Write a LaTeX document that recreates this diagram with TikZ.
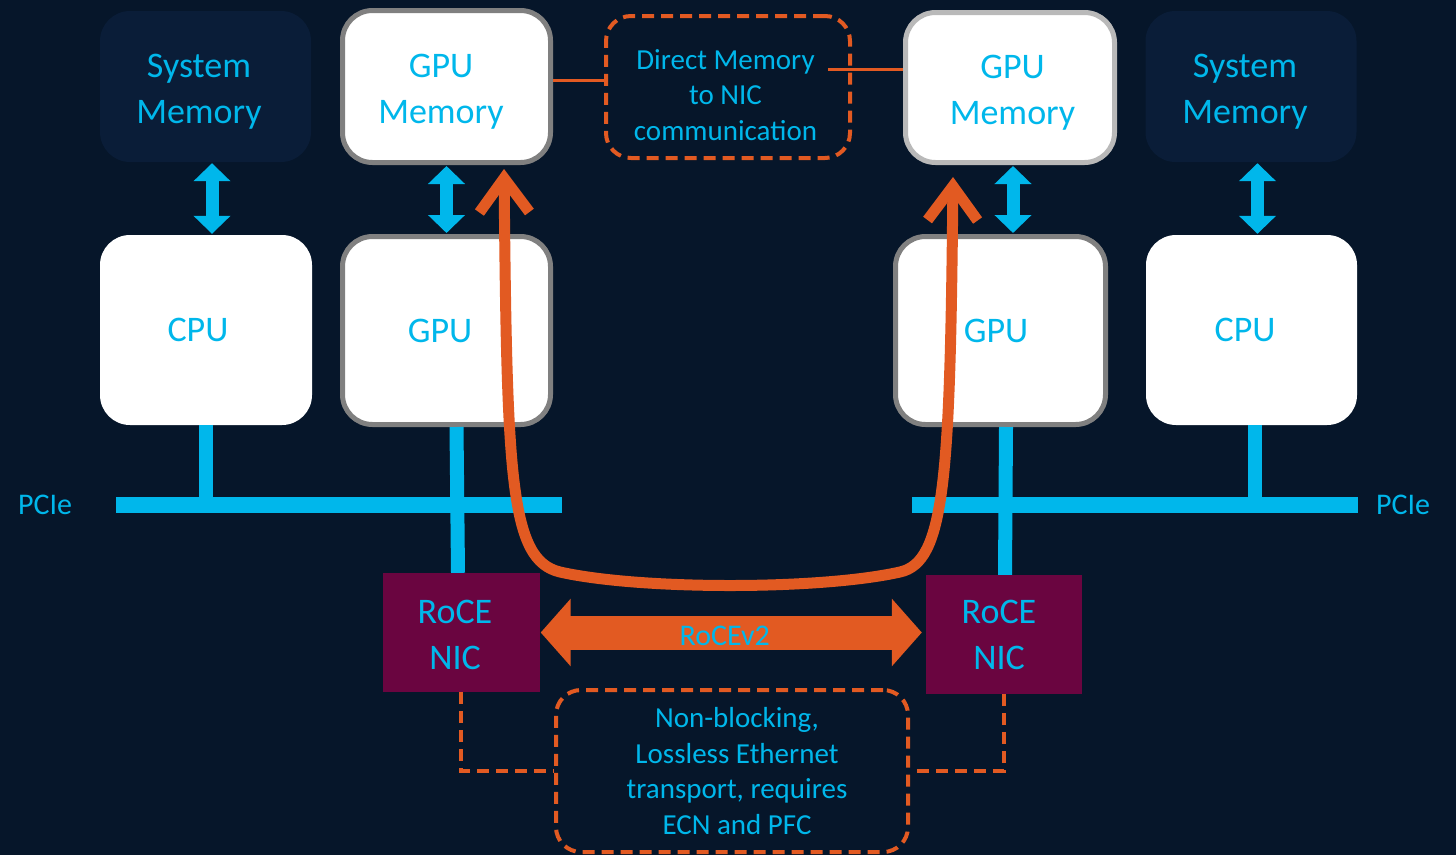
\documentclass[tikz,border=0pt]{standalone}
\usepackage{fontspec}
\setmainfont{Carlito}
\usetikzlibrary{arrows.meta}
\definecolor{bgc}{RGB}{6,22,42}
\definecolor{smc}{RGB}{10,29,56}
\definecolor{cy}{RGB}{0,183,235}
\definecolor{orc}{RGB}{226,90,34}
\definecolor{nicc}{RGB}{106,5,64}
\definecolor{gra}{RGB}{128,128,128}
\definecolor{grb}{RGB}{185,185,185}
\newcommand\fbig{\fontsize{36}{46}\selectfont}
\newcommand\fmid{\fontsize{29}{35.5}\selectfont}
\begin{document}
\begin{tikzpicture}[x=1pt,y=-1pt,
  smem/.style={fill=smc, rounded corners=30pt, minimum width=211pt, minimum height=151pt, inner sep=0pt},
  wbox/.style={fill=white, rounded corners=30pt, inner sep=0pt},
  gbox/.style={wbox, draw=gra, line width=5pt},
  nicbox/.style={fill=nicc, inner sep=0pt, minimum width=157pt, minimum height=119pt},
  dbox/.style={draw=orc, line width=4pt, dash pattern=on 12pt off 7pt, rounded corners=25pt, inner sep=0pt},
  btxt/.style={text=cy, font=\fbig, align=center, inner sep=0pt},
  mtxt/.style={text=cy, font=\fmid, align=center, inner sep=0pt},
  dlink/.style={draw=orc, line width=3.5pt, dash pattern=on 12pt off 7pt},
  slink/.style={draw=orc, line width=3pt},
  bar/.style={fill=cy, inner sep=0pt, minimum height=16pt},
  blink/.style={draw=cy, line width=14pt},
  barrow/.style={draw=cy, line width=13pt, {Triangle[width=36pt,length=18pt]}-{Triangle[width=36pt,length=18pt]}, shorten <=1pt, shorten >=1pt},
  lbl/.style={text=cy, font=\fontsize{30}{36}\selectfont, inner sep=0pt}
]
\useasboundingbox (0,0) rectangle (1456,855);
\fill[bgc] (0,0) rectangle (1456,855);

% top row
\node[smem] (smL) at (205.5,86.5) {};
\node[gbox, minimum width=208pt, minimum height=152pt] (gmL) at (446.5,86.5) {};
\node[gbox, draw=grb, minimum width=209pt, minimum height=150pt] (gmR) at (1010,87.5) {};
\node[smem] (smR) at (1251,86.5) {};
\node[dbox, minimum width=244pt, minimum height=142pt] (dm) at (728,87) {};
\node[btxt] (smLt) at ([xshift=-6.5pt,yshift=-5pt]smL.center) {System\\Memory};
\node[btxt] (gmLt) at ([xshift=-5.5pt,yshift=-5pt]gmL.center) {GPU\\Memory};
\node[btxt] (gmRt) at ([xshift=2.5pt,yshift=-5pt]gmR.center) {GPU\\Memory};
\node[btxt] (smRt) at ([xshift=-6pt,yshift=-5pt]smR.center) {System\\Memory};
\node[mtxt] (dmt) at ([xshift=-2.5pt,yshift=-8pt]dm.center) {Direct Memory\\to NIC\\communication};

% middle row
\node[wbox, minimum width=212pt, minimum height=190pt] (cpuL) at (206,330) {};
\node[gbox, minimum width=208pt, minimum height=188pt] (gpuL) at (446.5,330.5) {};
\node[gbox, minimum width=210pt, minimum height=188pt] (gpuR) at (1000.5,330.5) {};
\node[wbox, minimum width=211pt, minimum height=190pt] (cpuR) at (1251.5,330) {};
\node[btxt] (cpuLt) at ([xshift=-8pt]cpuL.center) {CPU};
\node[btxt] (gpuLt) at ([xshift=-6.5pt]gpuL.center) {GPU};
\node[btxt] (gpuRt) at ([xshift=-4.5pt]gpuR.center) {GPU};
\node[btxt] (cpuRt) at ([xshift=-6.5pt]cpuR.center) {CPU};

% PCIe bars
\node[bar, minimum width=446pt] (pcieL) at (339,505) {};
\node[bar, minimum width=446pt] (pcieR) at (1135,505) {};
\node[lbl] (pcieLt) at (45,505) {PCIe};
\node[lbl] (pcieRt) at (1403,505) {PCIe};

% NICs
\node[nicbox] (nicL) at (461,632.5) {};
\node[nicbox, minimum width=156pt] (nicR) at (1004,634.5) {};
\node[btxt] (nicLt) at ([xshift=-6pt,yshift=-2pt]nicL.center) {RoCE\\NIC};
\node[btxt] (nicRt) at ([xshift=-5pt]nicR.center) {RoCE\\NIC};

% bottom dashed box
\node[dbox, minimum width=352pt, minimum height=162pt] (eth) at (732,771) {};
\node[mtxt] (etht) at ([xshift=5pt]eth.center) {Non-blocking,\\Lossless Ethernet\\transport, requires\\ECN and PFC};

% blue links
\draw[blink] (cpuL.south) -- (cpuL.south |- pcieL.north);
\draw[blink] ([xshift=3pt]cpuR.south) -- ([xshift=3pt]cpuR.south |- pcieR.north);
\draw[blink] ([xshift=10pt]gpuL.south) -- ([xshift=-3pt]nicL.north);
\draw[blink] ([xshift=5.5pt]gpuR.south) -- ([xshift=1pt]nicR.north);

% blue double arrows
\draw[barrow] ([xshift=6.5pt]smL.south) -- ([xshift=6.5pt]smL.south |- cpuL.north);
\draw[barrow] (gmL.south) -- (gmL.south |- gpuL.north);
\draw[barrow] ([xshift=3pt]gmR.south) -- ([xshift=3pt]gmR.south |- gpuR.north);
\draw[barrow] ([xshift=6.5pt]smR.south) -- ([xshift=6.5pt]smR.south |- cpuR.north);

% orange solid links to direct memory box
\draw[slink] ([yshift=6.5pt]gmL.east) -- ([yshift=6.5pt]gmL.east -| dm.west);
\draw[slink] ([yshift=18.5pt]gmR.west) -- ([yshift=18.5pt,xshift=-24pt]gmR.west -| dm.east);

% dashed links NIC to ethernet box
\draw[dlink] (nicL.south) |- (eth.west);
\draw[dlink] (nicR.south) |- (eth.east);

% big U arrow
\draw[orc, line width=11pt, {Straight Barb[width=50pt,length=34pt]}-{Straight Barb[width=50pt,length=34pt]}]
  ([xshift=57.5pt,yshift=-4pt]gmL.south) .. controls (507,480) and (510,560) .. (560,572)
  .. controls (640,590) and (820,590) .. (900,572)
  .. controls (945,562) and (950,480) .. ([xshift=-57pt,yshift=-12pt]gmR.south);

% RoCEv2 arrow
\draw[orc, line width=34pt, {Triangle[width=66pt,length=30pt]}-{Triangle[width=66pt,length=30pt]}, shorten <=1pt, shorten >=4pt]
  (nicL.east) -- (nicL.east -| nicR.west) node[midway, xshift=-8pt, yshift=-3pt, text=cy, font=\fontsize{30}{36}\selectfont, inner sep=0pt] (rocev2) {RoCEv2};
\end{tikzpicture}
\end{document}
